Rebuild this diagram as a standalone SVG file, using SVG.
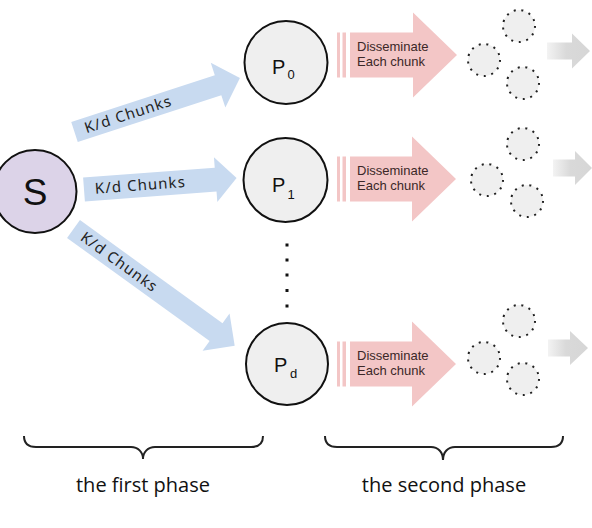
<svg xmlns="http://www.w3.org/2000/svg" width="592" height="528" viewBox="0 0 592 528">
<defs>
<style>
.node{fill:#efefef;stroke:#111;stroke-width:2}
.src{fill:#dcd3e8;stroke:#111;stroke-width:2}
.plab{font-family:"Liberation Sans",Arial,sans-serif;font-size:20px;fill:#111}
.psub{font-family:"Liberation Sans",Arial,sans-serif;font-size:13px;fill:#111}
.blue{fill:#c8daf0}
.klab{font-family:"Noto Sans","Open Sans",sans-serif;font-size:15px;fill:#222}
.pink{fill:#f3c6c6}
.dtext{font-family:"Liberation Sans",Arial,sans-serif;font-size:13px;fill:#3b2828}
.dot{fill:#efefef;stroke:#222;stroke-width:2;stroke-dasharray:2 5.73}
.gray{fill:url(#gg)}
.brace{fill:none;stroke:#222;stroke-width:2}
.phase{font-family:"Open Sans","Noto Sans",sans-serif;font-size:20px;fill:#111}
</style>
<linearGradient id="gg" x1="0" y1="0" x2="1" y2="0">
<stop offset="0" stop-color="#f3f3f3"/>
<stop offset="0.45" stop-color="#d9d9d9"/>
<stop offset="1" stop-color="#d6d6d6"/>
</linearGradient>
</defs>
<rect width="592" height="528" fill="#ffffff"/>

<g id="connectors">
<g transform="translate(74.5,132) rotate(-18.07)">
<path class="blue" d="M0,-10.5 L151,-10.5 L151,-23.5 L174,0 L151,23.5 L151,10.5 L0,10.5 Z"/>
<text class="klab" x="56" y="5" text-anchor="middle" textLength="90">K/d Chunks</text>
</g>
<g transform="translate(84,189.5) rotate(-4.3)">
<path class="blue" d="M0,-12 L132,-12 L132,-22.5 L153,0 L132,22.5 L132,12 L0,12 Z"/>
<text class="klab" x="56" y="5" text-anchor="middle" textLength="90">K/d Chunks</text>
</g>
<g transform="translate(73.5,229) rotate(35.9)">
<path class="blue" d="M0,-11 L176,-11 L176,-23 L199,0 L176,23 L176,11 L0,11 Z"/>
<text class="klab" x="56" y="5" text-anchor="middle" textLength="90">K/d Chunks</text>
</g>
</g>

<g id="node-S">
<circle class="src" cx="35" cy="191.5" r="41.5"/>
<text x="35" y="205" text-anchor="middle" font-family="Liberation Sans, Arial, sans-serif" font-size="37" fill="#111">S</text>
</g>

<g id="node-P0">
<circle class="node" cx="286" cy="62.5" r="41.5"/>
<text class="plab" x="272" y="74">P</text>
<text class="psub" x="287.5" y="79">0</text>
</g>
<g id="node-P1">
<circle class="node" cx="285.5" cy="180" r="42"/>
<text class="plab" x="272" y="192">P</text>
<text class="psub" x="287.5" y="199">1</text>
</g>
<g id="node-Pd">
<circle class="node" cx="287" cy="364" r="41"/>
<text class="plab" x="274" y="372">P</text>
<text class="psub" x="290" y="378">d</text>
</g>

<g id="ellipsis" fill="#111">
<rect x="285.5" y="243.5" width="3" height="3"/>
<rect x="285.5" y="258.5" width="3" height="3"/>
<rect x="285.5" y="273.5" width="3" height="3"/>
<rect x="285.5" y="289" width="3" height="3"/>
<rect x="285.5" y="304.5" width="3" height="3"/>
</g>

<g id="disseminate-0">
<rect class="pink" x="337" y="32.5" width="3" height="45"/>
<rect class="pink" x="342.5" y="32.5" width="3.5" height="45"/>
<path class="pink" d="M350,32.5 L413,32.5 L413,12.5 L457,55 L413,97.5 L413,77.5 L350,77.5 Z"/>
<text class="dtext" x="357" y="50.5">Disseminate</text>
<text class="dtext" x="357" y="65.5">Each chunk</text>
</g>
<g id="disseminate-1">
<rect class="pink" x="337" y="156.5" width="3" height="45"/>
<rect class="pink" x="342.5" y="156.5" width="3.5" height="45"/>
<path class="pink" d="M350,156.5 L412,156.5 L412,136.5 L456,179 L412,221.5 L412,201.5 L350,201.5 Z"/>
<text class="dtext" x="357" y="174.5">Disseminate</text>
<text class="dtext" x="357" y="189.5">Each chunk</text>
</g>
<g id="disseminate-d">
<rect class="pink" x="337" y="341.5" width="3" height="45"/>
<rect class="pink" x="342.5" y="341.5" width="3.5" height="45"/>
<path class="pink" d="M350,341.5 L412,341.5 L412,321.5 L456,364 L412,406.5 L412,386.5 L350,386.5 Z"/>
<text class="dtext" x="357" y="359.5">Disseminate</text>
<text class="dtext" x="357" y="374.5">Each chunk</text>
</g>

<g id="chunks-0">
<circle class="dot" cx="484" cy="60" r="16"/>
<circle class="dot" cx="519" cy="26" r="16"/>
<circle class="dot" cx="523" cy="83" r="16"/>
</g>
<g id="chunks-1">
<circle class="dot" cx="487" cy="180" r="16"/>
<circle class="dot" cx="523" cy="144" r="16"/>
<circle class="dot" cx="527" cy="201" r="16"/>
</g>
<g id="chunks-d">
<circle class="dot" cx="484" cy="358" r="16"/>
<circle class="dot" cx="519" cy="321" r="16"/>
<circle class="dot" cx="523" cy="379" r="16"/>
</g>

<g id="next-0"><path class="gray" d="M547,42.5 L572,42.5 L572,33.5 L590,51 L572,68.5 L572,59.5 L547,59.5 Z"/></g>
<g id="next-1"><path class="gray" d="M553,159.5 L575,159.5 L575,151 L592,168 L575,185 L575,176.5 L553,176.5 Z"/></g>
<g id="next-d"><path class="gray" d="M548,339.5 L570,339.5 L570,331 L588,348 L570,365 L570,356.5 L548,356.5 Z"/></g>

<g id="phase-1">
<path class="brace" d="M24,436 C24,443 28,447 36,447 L131,447 C138,447 143,452 143,459 C143,452 148,447 155,447 L251,447 C259,447 263,443 263,436"/>
<text class="phase" x="143" y="492" text-anchor="middle">the first phase</text>
</g>
<g id="phase-2">
<path class="brace" d="M325,436 C325,443 329,447 337,447 L431,447 C438,447 443,452 443,460 C443,452 448,447 455,447 L551,447 C559,447 563,443 563,436"/>
<text class="phase" x="444" y="492" text-anchor="middle">the second phase</text>
</g>
</svg>
